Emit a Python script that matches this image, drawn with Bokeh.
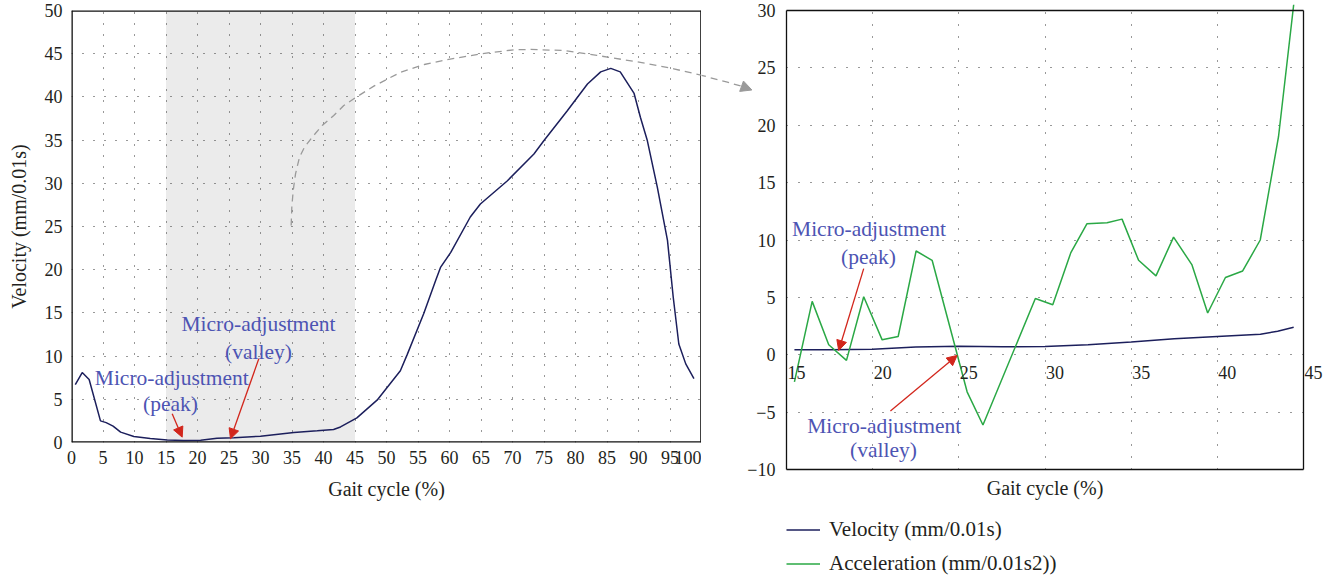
from bokeh.plotting import figure
from bokeh.layouts import row
from bokeh.models import (Range1d, FixedTicker, Label, Arrow, NormalHead, Legend,
                          LegendItem, Plot)
from bokeh.core.properties import value
from bokeh.embed import file_html
from bokeh.resources import INLINE

FONT = "Liberation Serif"
NAVY = "#1c1f5c"
GREEN = "#2aa845"
BLUE_TXT = "#4d54b3"
RED = "#d2261c"
GRAY = "#9a9a9a"
INK = "#231f20"
TICK_SIZE = "18px"

# ---------------- data: left panel (full gait cycle velocity) ----------------
vel_x = [0.6, 1.7, 2.8, 4.6, 5.5, 6.6, 7.8, 9.9, 12.5, 15.2, 17.8, 20.5, 23.1, 25.8,
         30.0, 35.3, 39.0, 41.6, 42.7, 45.3, 48.5, 52.2, 53.3, 55.9, 57.8, 58.6,
         60.2, 63.3, 64.9, 69.2, 73.4, 75.0, 78.7, 81.9, 84.0, 85.6, 87.1, 89.3,
         90.3, 91.4, 93.0, 94.6, 95.5, 96.4, 97.5, 98.8]
vel_y = [6.7, 8.1, 7.3, 2.5, 2.3, 1.9, 1.2, 0.7, 0.46, 0.3, 0.23, 0.25, 0.5, 0.55,
         0.73, 1.16, 1.35, 1.5, 1.8, 2.85, 4.9, 8.3, 10.2, 14.9, 18.75, 20.3,
         22.0, 26.1, 27.6, 30.3, 33.4, 34.95, 38.4, 41.5, 42.9, 43.3, 42.9, 40.4,
         37.65, 34.95, 29.5, 23.4, 16.9, 11.4, 9.1, 7.4]

x_ticks_left = list(range(0, 101, 5))
y_ticks_left = list(range(0, 51, 5))
shade_range = (15, 45)

# zoom connector (dashed curve) in left-panel data units
arc_x = [34.87, 34.97, 35.19, 35.56, 36.19, 36.98, 38.2, 39.79, 41.63, 43.22, 45.19,
         47.99, 52.22, 56.0, 59.6, 64.9, 70.2, 72.9, 78.1, 83.4, 90.3, 95.6, 100.0,
         104.1, 106.5]
arc_y = [25.12, 27.23, 29.17, 31.1, 33.02, 34.18, 35.33, 36.69, 37.85, 39.0, 39.97,
         41.25, 42.85, 43.75, 44.3, 44.98, 45.45, 45.49, 45.37, 44.8, 44.0, 43.25,
         42.5, 41.7, 41.2]
arc_tip = (108.0, 40.8)

# ---------------- data: right panel (15-45 % zoom) ----------------
acc_x = [15.46, 16.49, 17.45, 18.48, 19.48, 20.55, 21.48, 22.52, 23.45, 25.48, 26.4,
         29.44, 30.45, 31.5, 32.43, 33.6, 34.47, 35.43, 36.44, 37.46, 38.53, 39.44,
         40.47, 41.47, 42.49, 43.55, 44.43]
acc_y = [-2.37, 4.65, 0.87, -0.49, 5.05, 1.3, 1.59, 9.04, 8.23, -3.23, -6.12,
         4.9, 4.36, 8.9, 11.41, 11.5, 11.82, 8.23, 6.87, 10.25, 7.83, 3.64,
         6.73, 7.3, 10.0, 19.0, 30.5]
vel2_x = [15.46, 17.5, 20.0, 22.5, 25.0, 27.5, 30.0, 32.5, 35.0, 37.5, 40.0, 42.5,
          43.5, 44.43]
vel2_y = [0.43, 0.43, 0.49, 0.67, 0.75, 0.7, 0.72, 0.87, 1.12, 1.4, 1.6, 1.79,
          2.05, 2.4]

x_ticks_right = list(range(15, 46, 5))
y_ticks_right = list(range(-10, 31, 5))
x_labels_right = [str(t) for t in x_ticks_right]
y_labels_right = [str(t).replace("-", "\u2212") for t in y_ticks_right]

ann_main = "Micro-adjustment"
ann_peak = "(peak)"
ann_valley = "(valley)"
x_title = "Gait cycle (%)"
y_title = "Velocity (mm/0.01s)"
legend_labels = ["Velocity (mm/0.01s)", "Acceleration (mm/0.01s2))"]

# ---------------- layout geometry (pixels) ----------------
L_LEFT, L_TOP, L_W, L_H = 71, 10, 630, 432          # left plot frame
R_CANVAS_X = L_LEFT + L_W                           # right canvas starts where left ends
R_X0_PX, R_X1_PX, R_Y1_PX, R_Y0_PX = 786, 1303, 10, 469   # right panel box
R_RIGHT_PX, PAGE_H = 1325, 581


def style_axis(ax):
    ax.axis_line_color = None
    ax.major_tick_line_color = None
    ax.minor_tick_line_color = None
    ax.major_tick_out = 0
    ax.major_tick_in = 0
    ax.minor_tick_out = 0
    ax.minor_tick_in = 0
    ax.major_label_text_font = FONT
    ax.major_label_text_font_size = TICK_SIZE
    ax.major_label_text_color = INK
    ax.axis_label_text_font = FONT
    ax.axis_label_text_font_size = "20px"
    ax.axis_label_text_font_style = "normal"
    ax.axis_label_text_color = INK


def style_grid(g, dash):
    g.grid_line_color = "#333333"
    g.grid_line_dash = dash
    g.grid_line_width = 1


def add_label(p, x, y, text, size="21.5px", color=BLUE_TXT):
    p.add_layout(Label(x=x, y=y, text=text, text_align="center",
                       text_baseline="middle", text_font=FONT,
                       text_font_size=size, text_color=color))


def add_arrow(p, xs, ys, xe, ye, color, size=10):
    p.add_layout(Arrow(end=NormalHead(size=size, fill_color=color, line_color=color,
                                      line_width=1),
                       x_start=xs, y_start=ys, x_end=xe, y_end=ye,
                       line_color=color, line_width=1.3))


HAS_FRAME_ALIGN = "frame_align" in Plot.properties()

# ================= LEFT FIGURE =================
xl0, xl1 = x_ticks_left[0], x_ticks_left[-1]
yl0, yl1 = y_ticks_left[0], y_ticks_left[-1]
p1 = figure(frame_width=L_W, frame_height=L_H, x_range=Range1d(xl0, xl1),
            y_range=Range1d(yl0, yl1), title=None,
            output_backend="svg", toolbar_location=None, min_border=0,
            min_border_left=L_LEFT, min_border_right=0, min_border_top=L_TOP,
            min_border_bottom=PAGE_H - L_TOP - L_H)
if HAS_FRAME_ALIGN:
    p1.frame_align = False
p1.outline_line_color = None
p1.xaxis.ticker = FixedTicker(ticks=x_ticks_left)
p1.yaxis.ticker = FixedTicker(ticks=y_ticks_left)
for ax in (p1.xaxis[0], p1.yaxis[0]):
    style_axis(ax)
p1.xaxis.axis_label = x_title
p1.xaxis.major_label_standoff = 8
p1.xaxis.axis_label_standoff = 11
p1.yaxis.axis_label = y_title
p1.yaxis.major_label_standoff = 9
p1.yaxis.axis_label_standoff = 12

p1.xgrid.ticker = FixedTicker(ticks=[t for t in x_ticks_left if xl0 < t < xl1])
p1.ygrid.ticker = FixedTicker(ticks=[t for t in y_ticks_left if yl0 < t < yl1])
style_grid(p1.xgrid[0], "1 10")
style_grid(p1.ygrid[0], "1 10")

# shaded zoom window (below grid)
p1.quad(left=[shade_range[0]], right=[shade_range[1]], bottom=[yl0], top=[yl1],
        fill_color="#ebebeb", line_color=None, level="image")

p1.line(vel_x, vel_y, line_color=NAVY, line_width=1.5)

# frame box of the left panel (edges lie on the frame border, so half is clipped)
p1.segment(x0=[xl0, xl0, xl0, xl1], y0=[yl0, yl0, yl1, yl0],
           x1=[xl0, xl1, xl1, xl1], y1=[yl1, yl0, yl1, yl1],
           line_color="#111111", line_width=2.6)

# connector (left part)
p1.line(arc_x, arc_y, line_color=GRAY, line_dash="7 5", line_width=1.3)

# annotations (left)
add_label(p1, 29.68, 13.77, ann_main)
add_label(p1, 29.68, 10.45, ann_valley)
add_arrow(p1, 29.73, 9.69, 25.24, 0.43, RED)
add_label(p1, 15.92, 7.49, ann_main)
add_label(p1, 15.71, 4.4, ann_peak)
add_arrow(p1, 15.98, 3.32, 17.57, 0.62, RED)

# ================= RIGHT FIGURE =================
xr0, xr1 = x_ticks_right[0], x_ticks_right[-1]
yr0, yr1 = y_ticks_right[0], y_ticks_right[-1]
rpx = (R_X1_PX - R_X0_PX) / (xr1 - xr0)
rpy = (R_Y0_PX - R_Y1_PX) / (yr1 - yr0)
x_lo = xr0 - (R_X0_PX - R_CANVAS_X) / rpx
x_hi = xr1 + (R_RIGHT_PX - R_X1_PX) / rpx
y_hi = yr1 + R_Y1_PX / rpy
y_lo = yr0 - (PAGE_H - R_Y0_PX) / rpy

p2 = figure(frame_width=R_RIGHT_PX - R_CANVAS_X, frame_height=PAGE_H,
            x_range=Range1d(x_lo, x_hi), y_range=Range1d(y_lo, y_hi), title=None,
            x_axis_location=None, y_axis_location=None,
            output_backend="svg", toolbar_location=None, min_border=0,
            min_border_left=0, min_border_right=0, min_border_top=0, min_border_bottom=0)
if HAS_FRAME_ALIGN:
    p2.frame_align = False
p2.border_fill_color = None
p2.outline_line_color = None

p2.xgrid.ticker = FixedTicker(ticks=[t for t in x_ticks_right if xr0 < t < xr1])
p2.xgrid.cross_bounds = (yr0, yr1)
p2.ygrid.ticker = FixedTicker(ticks=[t for t in y_ticks_right if yr0 < t < yr1])
p2.ygrid.cross_bounds = (xr0, xr1)
style_grid(p2.xgrid[0], "1 11")
style_grid(p2.ygrid[0], "1 11")

r_vel = p2.line(vel2_x, vel2_y, line_color=NAVY, line_width=1.5)
r_acc = p2.line(acc_x, acc_y, line_color=GREEN, line_width=1.5)

p2.segment(x0=[xr0, xr0, xr0, xr1], y0=[yr0, yr0, yr1, yr0],
           x1=[xr0, xr1, xr1, xr1], y1=[yr1, yr0, yr1, yr1],
           line_color="#111111", line_width=1.3)

# y tick labels (left of the zoom box) and x tick labels sitting on the zero line
p2.text(x=[xr0] * len(y_ticks_right), y=y_ticks_right, text=y_labels_right,
        text_align="right", text_baseline="middle", x_offset=-11,
        text_font=value(FONT), text_font_size=value(TICK_SIZE), text_color=INK)
p2.text(x=x_ticks_right, y=[0] * len(x_ticks_right), text=x_labels_right,
        text_align="left", text_baseline="middle", x_offset=1, y_offset=18,
        text_font=value(FONT), text_font_size=value(TICK_SIZE), text_color=INK)

# axis title under the zoom panel
add_label(p2, (xr0 + xr1) / 2, yr0 - 18.0 / rpy, x_title, size="20px", color=INK)


# connector (right part): same curve, converted from left-panel units to right-panel units
def to_right(x, y):
    page_x = L_LEFT + (x - xl0) * L_W / (xl1 - xl0)
    page_y = L_TOP + (yl1 - y) * L_H / (yl1 - yl0)
    return xr0 + (page_x - R_X0_PX) / rpx, yr1 - (page_y - R_Y1_PX) / rpy


arc_r = [to_right(x, y) for x, y in zip(arc_x, arc_y) if x >= 90]
p2.line([a for a, _ in arc_r], [b for _, b in arc_r], line_color=GRAY, line_dash="7 5",
        line_width=1.3)
tip_r = to_right(*arc_tip)
add_arrow(p2, arc_r[-1][0], arc_r[-1][1], tip_r[0], tip_r[1], GRAY, size=11)

# annotations (right)
add_label(p2, 19.79, 10.92, ann_main)
add_label(p2, 19.76, 8.49, ann_peak)
add_arrow(p2, 19.48, 7.51, 18.03, 0.37, RED)
add_label(p2, 20.67, -6.18, ann_main)
add_label(p2, 20.63, -8.29, ann_valley)
add_arrow(p2, 21.03, -4.91, 24.9, -0.06, RED)

legend = Legend(items=[LegendItem(label=legend_labels[0], renderers=[r_vel]),
                       LegendItem(label=legend_labels[1], renderers=[r_acc])],
                location=(R_X0_PX - R_CANVAS_X, 5), orientation="vertical")
legend.label_text_font = FONT
legend.label_text_font_size = "21px"
legend.label_text_color = INK
legend.border_line_color = None
legend.background_fill_alpha = 0
legend.margin = 0
legend.padding = 4
legend.spacing = 9
legend.glyph_width = 34
legend.glyph_height = 23
legend.label_height = 23
legend.label_standoff = 9
p2.add_layout(legend, "center")

layout = row(p1, p2)
open("out.html", "w").write(file_html(layout, INLINE))
